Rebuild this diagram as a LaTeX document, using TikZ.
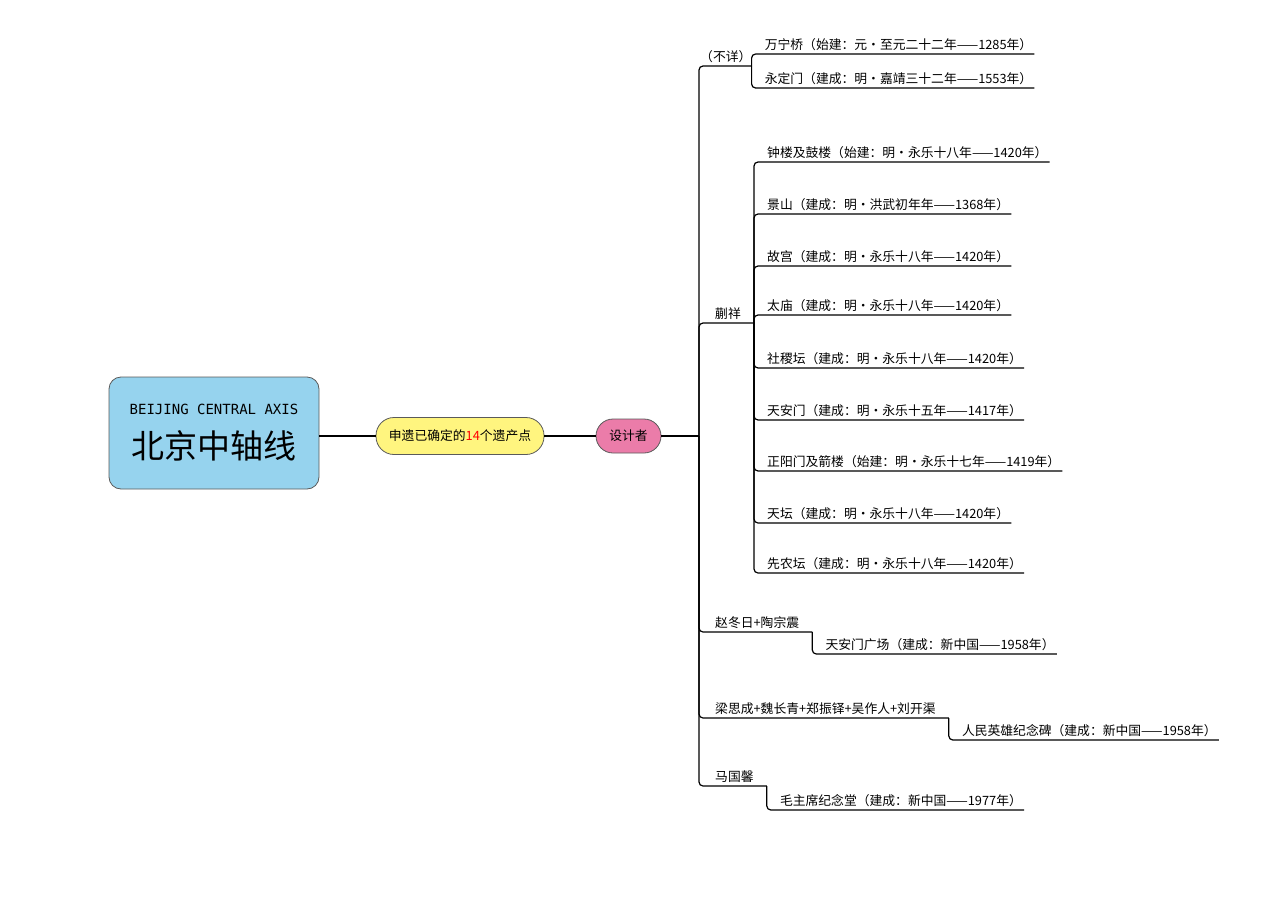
\documentclass[tikz,border=0pt]{standalone}
\usepackage{fontspec}
\setmainfont{Noto Sans CJK SC}
\newfontfamily\axisfont{DejaVu Sans Mono}
\usepackage{tikz}
\usetikzlibrary{positioning}
\definecolor{axisblue}{HTML}{96D3EE}
\definecolor{siteyellow}{HTML}{FFF57F}
\definecolor{designpink}{HTML}{EB7CA9}
\definecolor{rimgray}{HTML}{5A5A5A}

\begin{document}
\begin{tikzpicture}[x=1pt,y=-1pt,link/.style={line width=1.2pt,rounded corners=4pt},root node/.style={draw=rimgray,line width=0.8pt,fill=axisblue,rounded corners=12pt,minimum width=210pt,minimum height=112pt,align=center},topic node/.style={draw=rimgray,line width=0.8pt,fill=siteyellow,rounded corners=18pt,minimum width=168pt,minimum height=37pt,font=\fontsize{12.8}{15}\selectfont},designer node/.style={draw=rimgray,line width=0.8pt,fill=designpink,rounded corners=17pt,minimum width=65pt,minimum height=34pt,font=\fontsize{12.8}{15}\selectfont},branch node/.style={anchor=south west,inner xsep=13pt,inner ysep=3pt,font=\fontsize{12.8}{15}\selectfont},leaf node/.style={anchor=south west,inner xsep=2pt,inner ysep=3pt,font=\fontsize{12.8}{15}\selectfont}]

        \useasboundingbox (0,0) rectangle (1280,905);

        \node[root node] (root) at (214,433) {{\axisfont\fontsize{14}{16}\selectfont BEIJING CENTRAL AXIS}\\[15pt]{\fontsize{33}{36}\selectfont 北京中轴线}};
        \node[topic node] (sites) at (460,436) {申遗已确定的\textcolor{red}{14}个遗产点};
        \node[designer node] (design) at (628.5,436) {设计者};
        \coordinate (hub) at (699,436);

        \node[branch node,inner xsep=0pt] (unk) at (700,66) {（不详）};
        \node[branch node] (kx) at (702,323) {蒯祥};
        \node[branch node] (zd) at (702,632) {赵冬日+陶宗震};
        \node[branch node] (lsc) at (702,718) {梁思成+魏长青+郑振铎+吴作人+刘开渠};
        \node[branch node] (mgx) at (702,786) {马国馨};

        \node[leaf node] (wnq) at ([shift={(11,-12)}]unk.south east) {万宁桥（始建：元・至元二十二年——1285年）};
        \node[leaf node] (ydm) at ([shift={(11,22)}]unk.south east) {永定门（建成：明・嘉靖三十二年——1553年）};

        \node[leaf node] (zgl) at ([shift={(11,-161)}]kx.south east) {钟楼及鼓楼（始建：明・永乐十八年——1420年）};
        \node[leaf node] (js) at ([shift={(11,-109)}]kx.south east) {景山（建成：明・洪武初年年——1368年）};
        \node[leaf node] (gg) at ([shift={(11,-57)}]kx.south east) {故宫（建成：明・永乐十八年——1420年）};
        \node[leaf node] (tm) at ([shift={(11,-8)}]kx.south east) {太庙（建成：明・永乐十八年——1420年）};
        \node[leaf node] (sjt) at ([shift={(11,45)}]kx.south east) {社稷坛（建成：明・永乐十八年——1420年）};
        \node[leaf node] (tam) at ([shift={(11,97)}]kx.south east) {天安门（建成：明・永乐十五年——1417年）};
        \node[leaf node] (zym) at ([shift={(11,148)}]kx.south east) {正阳门及箭楼（始建：明・永乐十七年——1419年）};
        \node[leaf node] (tt) at ([shift={(11,200)}]kx.south east) {天坛（建成：明・永乐十八年——1420年）};
        \node[leaf node] (xnt) at ([shift={(11,250)}]kx.south east) {先农坛（建成：明・永乐十八年——1420年）};

        \node[leaf node] (tamgc) at ([shift={(11,22)}]zd.south east) {天安门广场（建成：新中国——1958年）};
        \node[leaf node] (rmyx) at ([shift={(11,22)}]lsc.south east) {人民英雄纪念碑（建成：新中国——1958年）};
        \node[leaf node] (mzx) at ([shift={(11,24)}]mgx.south east) {毛主席纪念堂（建成：新中国——1977年）};

        \draw[link] (root.east |- sites.west) -- (sites.west);
        \draw[link] (sites) -- (design);
        \draw[link] (design) -- (hub);

        \draw[link] (hub) |- (unk.south east);
        \draw[link] (hub) |- (kx.south east);
        \draw[link] (hub) |- (zd.south east);
        \draw[link] (hub) |- (lsc.south east);
        \draw[link] (hub) |- (mgx.south east);

        \draw[link] (unk.south east) |- (wnq.south east);
        \draw[link] (unk.south east) |- (ydm.south east);
        \draw[link] (kx.south east) |- (zgl.south east);
        \draw[link] (kx.south east) |- (js.south east);
        \draw[link] (kx.south east) |- (gg.south east);
        \draw[link] (kx.south east) |- (tm.south east);
        \draw[link] (kx.south east) |- (sjt.south east);
        \draw[link] (kx.south east) |- (tam.south east);
        \draw[link] (kx.south east) |- (zym.south east);
        \draw[link] (kx.south east) |- (tt.south east);
        \draw[link] (kx.south east) |- (xnt.south east);
        \draw[link] (zd.south east) |- (tamgc.south east);
        \draw[link] (lsc.south east) |- (rmyx.south east);
        \draw[link] (mgx.south east) |- (mzx.south east);
    \end{tikzpicture}
\end{document}
